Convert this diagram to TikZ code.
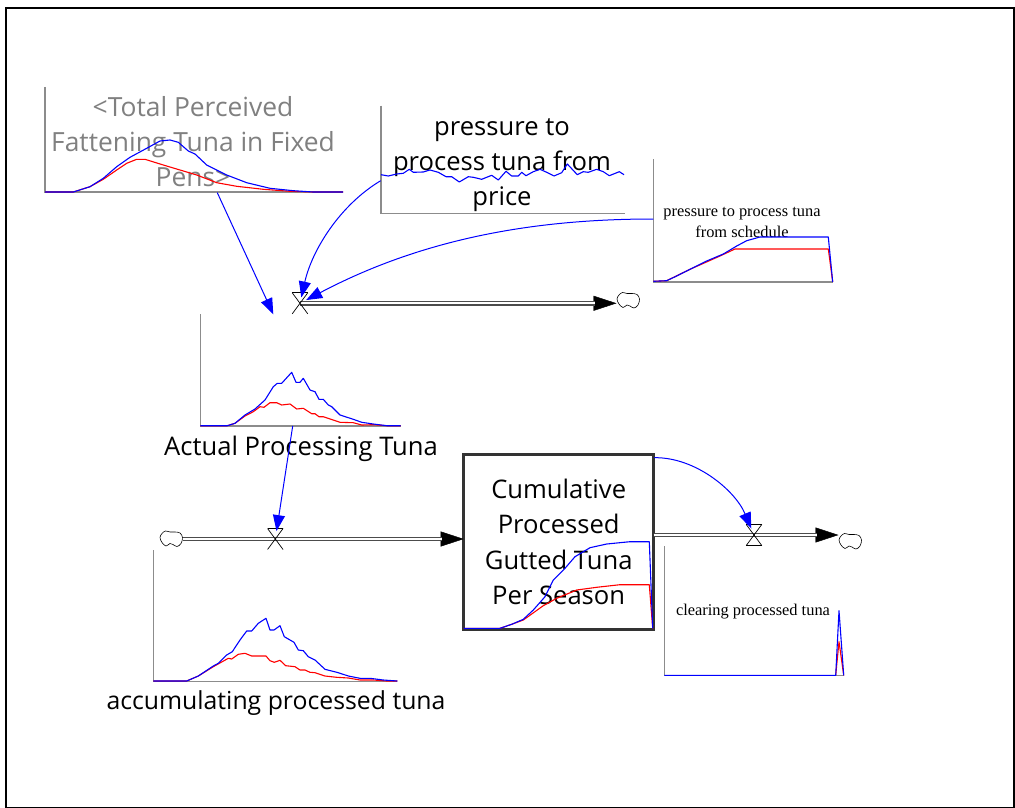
\documentclass[tikz,border=0pt]{standalone}
\usepackage{fontspec}
\setmainfont{Liberation Serif}
\newfontfamily\handfont{Open Sans}
\usetikzlibrary{arrows.meta}
\tikzset{
    varlabel/.style={font=\handfont\fontsize{25.6}{35.3}\selectfont, align=center, inner sep=0pt},
    shadowlabel/.style={varlabel, font=\handfont\fontsize{26.4}{34.6}\selectfont, text=black!50},
    longlabel/.style={varlabel, font=\handfont\fontsize{24.8}{35.3}\selectfont},
    smalllabel/.style={font=\fontsize{16.4}{21}\selectfont, align=center, inner sep=0pt},
    stockbox/.style={draw=black!80, line width=3pt, fill=white, outer sep=0pt, minimum width=190pt, minimum height=174.6pt, inner sep=0pt},
    valve/.style={minimum width=15.5pt, minimum height=21pt, inner sep=0pt, outer sep=0pt},
    valveline/.style={draw=black, line width=0.7pt},
    cloudspot/.style={minimum width=23pt, minimum height=18pt, inner sep=0pt, outer sep=0pt},
    cloudline/.style={draw=black, line width=0.6pt},
    pipe/.style={draw=black!70, line width=1.2pt, double=white, double distance=2.2pt},
    pipehead/.style={draw=black, line width=0.4pt, -{Triangle[length=23pt,width=15pt]}},
    axisline/.style={draw=black!45, line width=1.4pt},
    bluerun/.style={draw=blue, line width=1.1pt, line join=round},
    redrun/.style={draw=red, line width=1.1pt, line join=round},
    influence/.style={draw=blue, line width=1pt, -{Triangle[length=16pt,width=12pt]}}
}
\newcommand{\cloudat}[1]{
    \draw[cloudline, shift={(#1)}] plot[smooth cycle, tension=0.6] coordinates {(-11,-1) (-9,-5) (-5.5,-7.5) (-1,-6.5) (4,-6.5) (9,-5.5) (11.5,-1) (10,5) (6,8) (2,6) (-1,5) (-5,7.5) (-9,4)};
}
\begin{document}
\begin{tikzpicture}[x=1pt,y=-1pt]
            \useasboundingbox (0,0) rectangle (1015,808);

            % outer frame
            \draw[black, line width=2pt] (6,8) rectangle (1014,807.5);

            % labels and stock
            \node[shadowlabel] (perceived) at (193,141.5) {<Total Perceived\\Fattening Tuna in Fixed\\Pens>};
            \node[varlabel] (pricepressure) at (502,165) {pressure to\\process tuna from\\price};
            \node[smalllabel] (schedulepressure) at (742,222) {pressure to process tuna\\from schedule};
            \node[varlabel] (actual) at (301,448.5) {Actual Processing Tuna};
            \node[longlabel] (accumulating) at (276,703.5) {accumulating processed tuna};
            \node[smalllabel] (clearing) at (753,611.5) {clearing processed tuna};
            \node[stockbox, varlabel, inner sep=0pt] (stock) at (558.7,542) {Cumulative\\Processed\\Gutted Tuna\\Per Season};

            % valves and clouds
            \node[valve] (pressvalve) at (300,303.3) {};
            \node[valve] (accvalve) at (275.3,539) {};
            \node[valve] (clearvalve) at (754,535) {};
            \node[cloudspot] (cloudtop) at (628,300) {};
            \node[cloudspot] (cloudleft) at (171,538.5) {};
            \node[cloudspot] (cloudright) at (850,541) {};
            \cloudat{cloudtop}
            \cloudat{cloudleft}
            \cloudat{cloudright}

            % free ends of the connectors
            \coordinate (perceivedout) at (217.3,192.7);
            \coordinate (actualin) at (273.3,314.3);
            \coordinate (priceout) at (380.7,180.7);
            \coordinate (scheduleout) at (653.3,219);
            \coordinate (actualout) at (292.7,426);
            \coordinate (stockout) at (654.3,457.7);

            % pipes
            \draw[pipehead] (pressvalve.center) -- (pressvalve.center -| cloudtop.west);
            \draw[pipe, shorten >=22pt] (pressvalve.center) -- (pressvalve.center -| cloudtop.west);
            \draw[pipehead] (cloudleft.east |- accvalve) -- (accvalve -| stock.west);
            \draw[pipe, shorten >=22pt] (cloudleft.east |- accvalve) -- (accvalve -| stock.west);
            \draw[pipehead] (stock.east |- clearvalve) -- (clearvalve -| cloudright.west);
            \draw[pipe, shorten >=22pt] (stock.east |- clearvalve) -- (clearvalve -| cloudright.west);

            % valve crosses
            \foreach \v in {pressvalve,accvalve,clearvalve} {
                \draw[valveline] (\v.north west) -- (\v.south east);
                \draw[valveline] (\v.north east) -- (\v.south west);
                \draw[valveline] (\v.north west) -- (\v.north east);
            }
            \draw[valveline] (clearvalve.south west) -- (clearvalve.south east);

            % graph axes
            \draw[axisline] (45,87) -- (45,192) -- (343,192);
            \draw[axisline] (381,105.7) -- (381,213.3) -- (625,213.3);
            \draw[axisline] (653.3,159.3) -- (653.3,282) -- (832.7,282);
            \draw[axisline] (200.3,314.3) -- (200.3,426) -- (400.7,426);
            \draw[axisline] (153.7,550) -- (153.7,681.7) -- (397.3,681.7);
            \draw[axisline] (664.3,546) -- (664.3,675.5) -- (843.7,675.5);

            % perceived tuna runs
            \draw[redrun] plot coordinates {(45,192) (73.3,192) (90,186.7) (103.3,179.3) (116.7,170) (126.7,163.3) (136.7,159.3) (145,159.3) (163.3,165) (180,170) (196.7,175) (216.7,182.7) (236.7,186.3) (263.3,189.3) (290,191.3) (313.3,192) (343,192)};
            \draw[bluerun] plot coordinates {(45,192) (73.3,192) (90,186.7) (103.3,178.3) (116.7,166.7) (130,157.3) (146.7,148.3) (160,141) (170,140) (178.3,142.3) (188.3,151) (195,154) (206.7,165) (226.7,175) (246.7,182.7) (270,188.3) (293.3,190.7) (313.3,192) (343,192)};

            % price pressure run
            \draw[bluerun] plot coordinates {(381,174.7) (388.3,176) (396.7,174) (403.3,173.3) (409.3,169.3) (413.3,172.3) (423.3,172) (430,170) (438.3,172.3) (446,176.7) (451.7,176.7) (459.3,182) (468.3,176.7) (473.3,177.3) (481.7,179.3) (491.7,175.3) (498.3,180) (506,171.3) (511.7,176) (518.3,176) (521.7,172.3) (526,175.7) (533.3,171.7) (540,169.3) (546.7,172.3) (554,176) (561.7,172.7) (567.3,164) (577.3,174.7) (583.3,171.7) (588.3,172.3) (596.7,169.3) (603.3,171.7) (609.3,175.7) (619.3,171.7) (624,174.7)};

            % schedule pressure runs
            \draw[redrun] plot coordinates {(653.3,281.3) (666.7,280.7) (690,269.3) (720,256) (735,249) (828.3,249) (832.7,282)};
            \draw[bluerun] plot coordinates {(653.3,281.3) (666.7,280.7) (676.7,276) (690,269.3) (706.7,261) (723.3,254) (736.7,246) (746.7,240.7) (760,237) (828.3,237) (832.7,282)};

            % actual processing runs
            \draw[redrun] plot coordinates {(200.3,425.7) (227.3,425.7) (235,423.3) (245,416) (253.3,411.7) (260,406.7) (264,407.3) (270,402.7) (276.7,402.7) (281.7,405) (290,404) (296.7,409) (303.3,408.3) (311.7,413.7) (315,413.7) (319,416.7) (323.3,416.7) (340,422.3) (353.3,422.7) (361.7,425) (373.3,424.7) (386.7,425.7) (400.7,425.7)};
            \draw[bluerun] plot coordinates {(200.3,425.7) (227.3,425.7) (235,423.3) (245,415) (255,409) (265,400) (273.3,386.7) (277.3,383.3) (281.7,383.3) (291.7,372.3) (296,382.3) (300,382.3) (303.3,378.3) (310,390) (315,391.7) (319,399.3) (323.3,399.3) (328.3,405) (331.7,406.7) (340,415) (353.3,419.3) (361.7,422.3) (373.3,424) (386.7,425.7) (400.7,425.7)};

            % accumulating runs
            \draw[redrun] plot coordinates {(153.3,681) (186.7,681) (198.3,676) (213.3,666.7) (228.3,658.3) (231.7,659) (238.3,654.3) (245,653.3) (251.7,656) (266,656) (270,660.7) (274.3,662.3) (280,660.3) (285.7,665.7) (295,666.7) (300,670) (305,670) (310,672.3) (315,672.7) (325,676) (336.7,677.3) (348.3,678) (360,680) (373.3,680) (386.7,681) (397.3,681)};
            \draw[bluerun] plot coordinates {(153.3,681) (186.7,681) (198.3,676) (213.3,666) (218.3,663.3) (226.7,655) (232.3,651.7) (240,640) (246.7,631) (251.7,631) (258.3,623.3) (266,618.3) (270,630) (274,630) (280,625.7) (284.3,636.7) (294,642.3) (298.3,650) (303.3,650.7) (308.3,656.7) (315,660) (325,669.3) (338.3,672.7) (348.3,676) (360,678.3) (370,678.3) (383.3,680) (397.3,681)};

            % stock runs
            \draw[redrun] plot coordinates {(463.7,628.3) (500,628.3) (511.7,624.3) (523.3,620) (543.3,605.7) (556.7,598.3) (576.7,590) (596.7,587.3) (620,584.7) (649.3,584.7) (652.7,628.3)};
            \draw[bluerun] plot coordinates {(463.7,628.3) (500,628.3) (511.7,624.3) (523.3,619.3) (533.3,610) (545,596.7) (553.3,580) (565,568.3) (575,556.7) (590,547.7) (606.7,544) (630,541.7) (649.3,541.7) (652.7,628.3)};

            % clearing runs
            \draw[redrun] plot coordinates {(835.7,675.3) (839,641.7) (843.7,675.3)};
            \draw[bluerun] plot coordinates {(664.3,675.3) (835.7,675.3) (839,610.7) (843.7,675.3)};

            % influences
            \draw[influence] (perceivedout) -- (actualin);
            \draw[influence, shorten >=6pt] (priceout) .. controls (340,205) and (312,250) .. (pressvalve.center);
            \draw[influence, shorten >=7pt] (scheduleout) .. controls (530,219) and (420,240) .. (pressvalve.center);
            \draw[influence, shorten >=8pt] (actualout) -- (accvalve.center);
            \draw[influence, shorten >=7pt] (stockout) .. controls (695,457) and (735,490) .. (clearvalve.center);
\end{tikzpicture}
\end{document}
